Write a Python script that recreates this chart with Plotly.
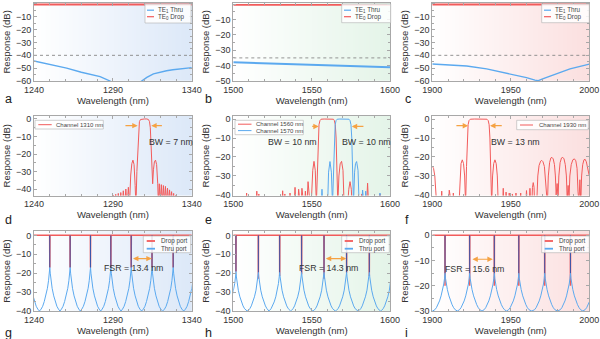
import numpy as np
import plotly.graph_objects as go

W, H = 600, 339
FONT = 'Liberation Sans, Arial, sans-serif'
RED = '#f25b5b'
BLUE = '#5ba9ef'
SPIKE = '#3a55aa'
ORANGE = '#f5a243'
FRAME = '#a8a8a8'
TEXT = '#333333'

# ---------------- data ----------------
# (a) 1240-1340 nm, TE1 thru / TE0 drop
a_thru_x = [1240, 1250, 1260.7, 1270, 1281.9, 1288.2, 1290, None,
            1306, 1308.3, 1311.5, 1315.7, 1320, 1324, 1328, 1332.6, 1336, 1340]
a_thru_y = [-44.4, -47, -50, -53.2, -56.6, -60, -61.5, None,
            -62, -60, -57.2, -54.5, -53.1, -52, -51.2, -50.6, -50.1, -49.6]
a_drop_x = [1240, 1340]
a_drop_y = [-0.4, -0.4]
a_level = -40

# (b) 1500-1600 nm
b_thru_x = [1500, 1525, 1550, 1575, 1600]
b_thru_y = [-37.9, -38.7, -39.5, -40.3, -41.1]
b_drop_x = [1500, 1600]
b_drop_y = [-0.5, -0.5]
b_level = -35

# (c) 1900-2000 nm
c_thru_x = [1900, 1921.9, 1934.6, 1949.5, 1960, 1965.4, 1967.5, 1970.7, 1979.2, 1987.7, 2000]
c_thru_y = [-46.8, -48.3, -50.6, -54.5, -57.4, -59.3, -59.7, -58.2, -54.5, -50.6, -46.8]
c_drop_x = [1900, 2000]
c_drop_y = [-0.4, -0.4]
c_level = -40

# (d) channel 1310 nm
d_x = [1288, 1289.5, 1290.3, 1291.0, 1291.8, 1292.6, 1293.4, 1294.2, 1295.0, 1295.8, 1296.6,
       1297.4, 1298.2, 1299.0, 1299.8, 1300.5,
       1301.3, 1302.0, 1302.7, 1303.4, 1304.1, 1304.6,
       1305.2, 1305.8, 1306.3, 1306.8, 1307.5, 1309, 1310, 1311.5, 1312.5, 1313.2, 1313.7,
       1314.2, 1314.8, 1315.2,
       1315.7, 1316.3, 1317.0, 1317.7, 1318.4, 1318.8,
       1319.4, 1320.0, 1320.7, 1321.3, 1322.0, 1322.6, 1323.3, 1323.9, 1324.6, 1325.2,
       1325.9, 1326.5, 1327.2, 1327.8, 1328.5, 1329.1, 1329.8, 1330.4, 1332]
d_y = [-55, -50, -43.5, -50, -43, -50, -42.5, -50, -42, -50, -41,
       -50, -40, -50, -39, -50,
       -32, -25.5, -23.5, -26, -38, -50,
       -30, -15, -5, -1.5, -0.3, 0, 0, 0, -0.3, -1.5, -5,
       -15, -30, -37,
       -29, -24.5, -23.5, -26, -37, -48,
       -37, -48, -37.5, -48, -38, -48, -38.5, -48, -39.5, -48,
       -40.5, -48, -41.5, -48, -42.5, -48, -43.5, -50, -55]

# (e) channels 1560 nm and 1570 nm
e_red_x = [1500, 1507.8, 1508.5, 1509.2, 1514.3, 1515.0, 1515.7, 1516.3, 1517.0,
           1530.8, 1531.5, 1532.2, 1532.9, 1533.6, 1535.5, 1536.2, 1537.0,
           1538.7, 1539.4, 1540.1, 1541.0, 1541.7, 1542.4, 1543.1, 1543.8, 1544.5,
           1545.3, 1546.0, 1546.7, 1547.0, 1547.7, 1548.4, 1549.3,
           1550.0, 1550.7, 1551.5, 1552.3, 1553.0,
           1553.6, 1554.1, 1554.7, 1555.3, 1556.0, 1558, 1560, 1562, 1563.9, 1564.5, 1565.1,
           1565.6, 1566.1, 1566.7,
           1567.4, 1568.2, 1569.1, 1570.0, 1570.7,
           1573.0, 1573.7, 1574.5, 1575.3, 1576.0,
           1581.3, 1582.0, 1582.7, 1584.9, 1585.7, 1586.5, 1592.9, 1593.6, 1594.3, 1600]
e_red_y = [-48, -48, -39, -48, -48, -38, -48, -39.5, -48,
           -48, -37.8, -48, -39.5, -48, -48, -39, -48,
           -48, -36, -48, -48, -37, -48, -48, -36.5, -48,
           -48, -38, -48, -45, -33, -45, -48,
           -40, -27, -22.3, -27, -45,
           -25, -10, -3, -0.8, -0.1, 0, 0, 0, -0.1, -0.8, -3,
           -10, -25, -45,
           -30, -23.6, -22.3, -27, -45,
           -45, -37, -33, -37, -48,
           -48, -39.5, -48, -48, -33.8, -48, -48, -39.5, -48, -48]
e_blue_x = [1500, 1555.9, 1556.6, 1557.3, 1560.1, 1560.8, 1561.7, 1562.6, 1563.3,
            1563.9, 1564.5, 1565.0, 1565.6, 1566.3, 1568, 1570, 1572, 1573.8, 1574.5, 1575.1,
            1575.6, 1576.1, 1576.7,
            1577.4, 1578.0, 1578.7, 1579.6, 1580.4,
            1581.8, 1582.5, 1583.2, 1583.8, 1584.5, 1585.2, 1592.9, 1593.6, 1594.3, 1600]
e_blue_y = [-48, -48, -37, -48, -48, -28, -22.4, -28, -45,
            -25, -10, -3, -0.8, -0.1, 0, 0, 0, -0.1, -0.8, -3,
            -10, -25, -45,
            -28, -23.5, -22.4, -27, -48,
            -48, -37.4, -48, -48, -38, -48, -48, -39, -48, -48]

# (f) channel 1930 nm
f_x = [1900, 1900.8, 1901.6, 1902.4, 1903.0,
       1905.3, 1906.0, 1906.7, 1910.1, 1910.8, 1911.5, 1912.8, 1913.4, 1914.0,
       1917.0, 1917.6, 1918.3, 1919.1, 1919.9, 1920.6, 1921.2,
       1921.8, 1922.3, 1922.8, 1923.4, 1924.2, 1927, 1930, 1933, 1934.8, 1935.6, 1936.2,
       1936.7, 1937.2, 1937.8,
       1938.4, 1939.1, 1939.9, 1940.7, 1941.4, 1942.0,
       1944.6, 1945.2, 1945.8, 1946.4, 1947.0, 1947.6, 1948.4, 1949.0, 1949.6,
       1950.4, 1951.0, 1951.6, 1952.7, 1953.3, 1953.9, 1955.7, 1956.3, 1956.9,
       1959.3, 1960.0, 1960.7, 1961.5, 1962.2, 1962.9, 1963.4, 1963.8, 1964.3, 1964.8, 1965.3,
       1966.5, 1967.2, 1968.0, 1969.0, 1969.7, 1970.5, 1971.4, 1972.2, 1972.8,
       1973.3, 1973.9, 1974.7, 1975.5, 1976.2, 1977.0, 1977.8, 1978.4, 1978.9,
       1979.5, 1980.1,
       1980.6, 1981.4, 1982.3, 1983.1, 1983.9, 1984.7, 1985.4, 1985.9,
       1986.5, 1987.1,
       1987.6, 1988.5, 1989.5, 1990.5, 1991.4, 1992.2, 1992.8,
       1993.4, 1994.0, 1994.6,
       1995.1, 1995.8, 1996.6, 1997.3, 1998.1, 1999.0, 2000]
f_y = [-25, -26, -30, -38, -48,
       -48, -38, -48, -48, -37.5, -48, -48, -39, -48,
       -45, -30, -23.5, -21.5, -23.5, -30, -45,
       -25, -10, -3, -0.8, -0.1, 0, 0, 0, -0.1, -0.8, -3,
       -10, -25, -45,
       -30, -23.5, -21.5, -23.5, -30, -45,
       -48, -36.5, -48, -48, -38.5, -48, -48, -39, -48,
       -48, -39.5, -48, -48, -39, -48, -48, -39, -48,
       -48, -37.7, -48, -48, -36.5, -48, -45, -36, -33.5, -36, -48,
       -45, -30, -24.5, -22.2, -21.8, -22.5, -25, -32, -45,
       -45, -30, -23, -20.5, -20.2, -21, -24, -30, -40,
       -34, -42,
       -30, -23, -20.5, -20.2, -21, -24, -30, -42,
       -35, -42,
       -30, -24, -21.5, -21, -22, -26, -38,
       -44, -32, -44,
       -30, -24, -21.5, -21.2, -22.5, -26, -30]

# (g)(h)(i) ring resonances: resonance wavelengths, thru-port line shape
# (distance from resonance in nm -> dB), thru-port floor, drop-port notch depth
g_res = [1236.9, 1250.0, 1262.9, 1275.8, 1288.7, 1301.6, 1314.8, 1328.2, 1341.5]
g_off = [0.02, 0.3, 0.8, 1.5, 2.5, 3.5, 4.5, 5.5]
g_db = [-17, -20, -24, -28, -32, -35, -37.5, -39]
g_floor = -40
g_dip = [-17, -17, -17, -17, -17, -17, -17, -17, -17]

h_res = [1487.4, 1501.7, 1516.0, 1529.6, 1543.6, 1557.9, 1572.3, 1586.8, 1601.1]
h_off = [0.02, 0.3, 0.8, 1.5, 2.5, 3.5, 4.5, 5.5, 6.5]
h_db = [-19.5, -22, -25.5, -29, -32.5, -35.2, -37.3, -38.8, -39.7]
h_floor = -40
h_dip = [-20, -19, -23, -21.5, -20.6, -23, -19.7, -21.5, -20]

i_res = [1892.4, 1908.1, 1923.8, 1939.5, 1955.1, 1971.6, 1988.0, 2003.8]
i_off = [0.02, 0.3, 0.8, 1.5, 2.5, 3.5, 4.5, 5.5, 6.5]
i_db = [-15, -17, -19.3, -21.5, -24, -26, -27.5, -28.7, -29.5]
i_floor = -30
i_dip = [-20, -20, -20, -20, -20, -20, -20, -20]

# ---------------- layout geometry (pixels) ----------------
XL = [34, 233.3, 432.3]
XR = [191.8, 390, 589.3]
YT = [2.7, 116, 231]
YB = [81, 195.5, 311]
XRANGES = [[1240, 1340], [1500, 1600], [1900, 2000]]
XTICKS = [[1240, 1290, 1340], [1500, 1550, 1600], [1900, 1950, 2000]]
YRANGES = [[-60, 1.0], [-50, 0.85], [-60, 1.0],
           [-43.7, 1.7], [-40.3, 1.6], [-40.3, 1.6],
           [-40, 2.3], [-40, 2.3], [-30, 1.7]]
YTICKS = [[0, -10, -20, -30, -40, -50, -60], [0, -10, -20, -30, -40, -50],
          [0, -10, -20, -30, -40, -50, -60],
          [0, -10, -20, -30, -40], [0, -10, -20, -30, -40], [0, -10, -20, -30, -40],
          [0, -10, -20, -30, -40], [0, -10, -20, -30, -40], [0, -10, -20, -30]]
BG = ['#dce8f8', '#e4f4e8', '#fbdfdf']
LETTERS = 'abcdefghi'

fig = go.Figure()


def ax(p):
    return ('x' if p == 0 else f'x{p+1}'), ('y' if p == 0 else f'y{p+1}')


def line(p, x, y, color, width=1.0, dash=None):
    xa, ya = ax(p)
    fig.add_trace(go.Scatter(x=x, y=y, mode='lines', xaxis=xa, yaxis=ya,
                             line=dict(color=color, width=width, dash=dash),
                             showlegend=False, hoverinfo='skip', connectgaps=False))


def ring_thru(res, offs, vals, vmin):
    xs, ys = [], []
    for a, b in zip(res[:-1], res[1:]):
        h = (b - a) / 2
        pts = [(o, v) for o, v in zip(offs, vals) if o < h]
        for o, v in pts:
            xs.append(a + o); ys.append(v)
        xs.append(a + h); ys.append(vmin)
        for o, v in reversed(pts):
            xs.append(b - o); ys.append(v)
    return xs, ys


def ring_drop(res, dips, xr):
    xs, ys = [xr[0]], [0]
    for r, d in zip(res, dips):
        if xr[0] < r < xr[1]:
            xs += [r - 0.08, r, r + 0.08]
            ys += [0, d, 0]
    xs.append(xr[1]); ys.append(0)
    return xs, ys


def spikes(res, bottom, xr):
    xs, ys = [], []
    for r in res:
        if xr[0] < r < xr[1]:
            xs += [r, r, None]
            ys += [bottom, 0, None]
    return xs, ys


# backgrounds
for p in range(9):
    r, c = divmod(p, 3)
    xr = XRANGES[c]; yr = YRANGES[p]
    n = 30
    xs = np.linspace(xr[0], xr[1], n)
    xa, ya = ax(p)
    fig.add_trace(go.Heatmap(x=xs, y=[yr[0] - 1, yr[1] + 1], z=[list(range(n))] * 2,
                             colorscale=[[0, '#ffffff'], [1, BG[c]]], zsmooth='best',
                             showscale=False, hoverinfo='skip', xaxis=xa, yaxis=ya))

# row 1
for p, (tx, ty, dx, dy, lv) in enumerate([
        (a_thru_x, a_thru_y, a_drop_x, a_drop_y, a_level),
        (b_thru_x, b_thru_y, b_drop_x, b_drop_y, b_level),
        (c_thru_x, c_thru_y, c_drop_x, c_drop_y, c_level)]):
    line(p, XRANGES[p], [lv, lv], '#888888', 0.9, 'dot')
    line(p, dx, dy, RED, 1.8)
    line(p, tx, ty, BLUE, 1.4 if p != 1 else 2.0)

# row 2
line(3, d_x, d_y, RED, 1.0)
line(4, e_red_x, e_red_y, RED, 1.0)
line(4, e_blue_x, e_blue_y, BLUE, 1.0)
line(5, f_x, f_y, RED, 1.0)

# row 3
for p, (res, off, db, fl, dip, cusp) in zip([6, 7, 8], [
        (g_res, g_off, g_db, g_floor, g_dip, g_db[0]),
        (h_res, h_off, h_db, h_floor, h_dip, h_db[0]),
        (i_res, i_off, i_db, i_floor, i_dip, i_db[0])]):
    xr = XRANGES[p - 6]
    rx, ry = ring_drop(res, dip, xr)
    line(p, rx, ry, RED, 1.5)
    tx, ty = ring_thru(res, off, db, fl)
    line(p, tx, ty, BLUE, 1.0)
    sx, sy = spikes(res, cusp, xr)
    line(p, sx, sy, SPIKE, 1.0)

# axes
layout = dict(width=W, height=H, margin=dict(l=0, r=0, t=0, b=0),
              paper_bgcolor='white', plot_bgcolor='white',
              font=dict(family=FONT, color=TEXT), showlegend=False)
for p in range(9):
    r, c = divmod(p, 3)
    xn = 'xaxis' if p == 0 else f'xaxis{p+1}'
    yn = 'yaxis' if p == 0 else f'yaxis{p+1}'
    xa, ya = ax(p)
    common = dict(showline=True, linecolor=FRAME, linewidth=0.8, mirror='ticks',
                  ticks='inside', ticklen=3, tickcolor=FRAME, tickwidth=0.8,
                  showgrid=False, zeroline=False, automargin=False,
                  tickfont=dict(size=9, color=TEXT, family=FONT))
    layout[xn] = dict(common, domain=[XL[c] / W, XR[c] / W], range=XRANGES[c],
                      anchor=ya, tickvals=XTICKS[c],
                      minor=dict(dtick=10, ticks='inside', ticklen=2, tickcolor=FRAME),
                      title=dict(text='Wavelength (nm)', font=dict(size=9.5, color=TEXT),
                                 standoff=0))
    layout[yn] = dict(common, domain=[1 - YB[r] / H, 1 - YT[r] / H], range=YRANGES[p],
                      anchor=xa, tickvals=YTICKS[p],
                      minor=dict(dtick=5, ticks='inside', ticklen=2, tickcolor=FRAME),
                      title=dict(text='Response (dB)', font=dict(size=9.5, color=TEXT),
                                 standoff=3))
fig.update_layout(**layout)

annotations = []
shapes = []

# panel letters
LET_Y = [99, 220, 333]
LET_X = [3, 203, 403]
for p in range(9):
    r, c = divmod(p, 3)
    annotations.append(dict(text=LETTERS[p], xref='paper', yref='paper',
                            x=LET_X[c] / W, y=1 - LET_Y[r] / H, xanchor='left',
                            yanchor='middle', showarrow=False,
                            font=dict(size=12.5, color='#222222')))


# custom legends (pixel coords)
def legend(box, items, lx0, lx1, tx, fsize, lw):
    x0, y0, x1, y1 = box
    shapes.append(dict(type='rect', xref='paper', yref='paper', x0=x0 / W, x1=x1 / W,
                       y0=1 - y1 / H, y1=1 - y0 / H,
                       line=dict(color='#b0b0b0', width=0.6),
                       fillcolor='rgba(255,255,255,0.85)', layer='above'))
    for label, color, y in items:
        shapes.append(dict(type='line', xref='paper', yref='paper', x0=lx0 / W, x1=lx1 / W,
                           y0=1 - y / H, y1=1 - y / H, line=dict(color=color, width=lw),
                           layer='above'))
        annotations.append(dict(text=label, xref='paper', yref='paper', x=tx / W,
                                y=1 - y / H, xanchor='left', yanchor='middle',
                                showarrow=False, font=dict(size=fsize, color='#444444')))


te_items = [('TE<sub>1</sub> Thru', BLUE, 10.2), ('TE<sub>0</sub> Drop', RED, 16.7)]
legend((145, 4, 191, 23), te_items, 147, 154, 156, 6.3, 1.2)
legend((341.7, 4, 390.7, 22.7), te_items, 344, 351, 353, 6.3, 1.2)
legend((541.7, 4, 589.3, 22.7), te_items, 544, 551, 553, 6.3, 1.2)
legend((35, 120.3, 103.3, 129), [('Channel 1310 nm', RED, 124.7)], 38.3, 51.7, 54.3, 6.0, 1.0)
legend((235, 120.3, 303.3, 134.7), [('Channel 1560 nm', RED, 124.2),
                                    ('Channel 1570 nm', BLUE, 130.6)], 238, 251.5, 254, 6.0, 1.0)
legend((516.7, 120.3, 588.3, 129.7), [('Channel 1930 nm', RED, 125)], 520, 533, 536.7, 6.0, 1.0)
port_items = [('Drop port', RED, 241), ('Thru port', BLUE, 248.7)]
legend((143.3, 236, 190.7, 252.7), port_items, 146.7, 155, 159, 6.3, 1.8)
legend((341.7, 236, 389.3, 252.7), port_items, 344.7, 353, 357, 6.3, 1.8)
legend((541.7, 236, 589.3, 252.7), port_items, 544.7, 553, 557, 6.3, 1.8)


def arrow(p, x0, x1, y, both=False):
    xa, ya = ax(p)
    annotations.append(dict(text='', x=x1, y=y, ax=x0, ay=y, xref=xa, yref=ya,
                            axref=xa, ayref=ya, showarrow=True, arrowhead=2,
                            arrowsize=0.9, arrowwidth=1.2, arrowcolor=ORANGE,
                            arrowside='end+start' if both else 'end',
                            startarrowhead=2, startarrowsize=0.9))


def label(p, text, x, y):
    xa, ya = ax(p)
    annotations.append(dict(text=text, x=x, y=y, xref=xa, yref=ya, showarrow=False,
                            font=dict(size=8.8, color=TEXT)))


arrow(3, 1297, 1305.7, -3.8); arrow(3, 1322, 1314.3, -3.8)
label(3, 'BW = 7 nm', 1327, -13)
arrow(4, 1549.4, 1554.5, -3.9); arrow(4, 1584, 1575.6, -3.9)
label(4, 'BW = 10 nm', 1537.8, -12.3); label(4, 'BW = 10 nm', 1585.1, -12.3)
arrow(5, 1914.4, 1922.8, -3.5); arrow(5, 1945.2, 1936.8, -3.5)
label(5, 'BW = 13 nm', 1953.3, -12.3)
arrow(6, 1301.8, 1314.6, -12.3, True)
label(6, 'FSR = 13.4 nm', 1303, -17.4)
arrow(7, 1558.1, 1572.1, -12.3, True)
label(7, 'FSR = 14.3 nm', 1561, -17.4)
arrow(8, 1924.6, 1938.5, -9.5, True)
label(8, 'FSR = 15.6 nm', 1927.1, -13.2)

fig.update_layout(annotations=annotations, shapes=shapes)
fig.write_html('out.html')
